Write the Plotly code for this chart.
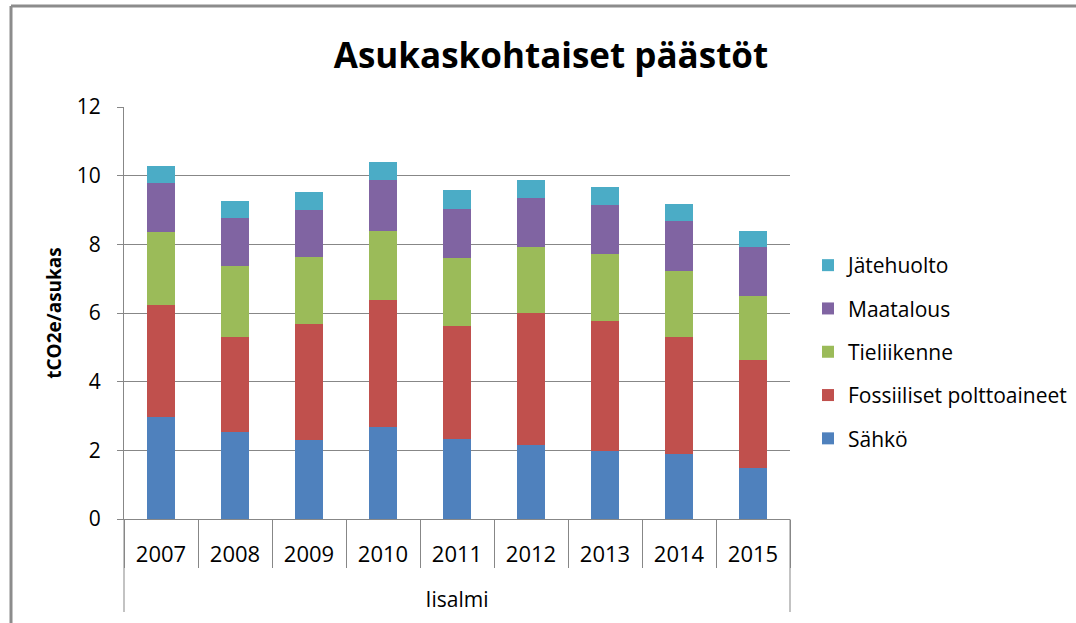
import plotly.graph_objects as go

years = ["2007", "2008", "2009", "2010", "2011", "2012", "2013", "2014", "2015"]
sahko = [2.96, 2.52, 2.29, 2.69, 2.32, 2.15, 1.98, 1.89, 1.49]
fossiiliset = [3.26, 2.79, 3.39, 3.69, 3.29, 3.84, 3.80, 3.42, 3.15]
tieliikenne = [2.14, 2.05, 1.94, 2.01, 1.98, 1.94, 1.95, 1.91, 1.85]
maatalous = [1.42, 1.41, 1.38, 1.48, 1.44, 1.41, 1.42, 1.45, 1.44]
jatehuolto = [0.50, 0.50, 0.53, 0.54, 0.54, 0.53, 0.52, 0.51, 0.47]

series = [
    ("Sähkö", sahko, "#4F81BD"),
    ("Fossiiliset polttoaineet", fossiiliset, "#C0504D"),
    ("Tieliikenne", tieliikenne, "#9BBB59"),
    ("Maatalous", maatalous, "#8064A2"),
    ("Jätehuolto", jatehuolto, "#4BACC6"),
]

FONT = "Open Sans, Liberation Sans, Arial, sans-serif"
GRID = "#878787"

fig = go.Figure()
n = len(series)
for i, (name, vals, col) in enumerate(series):
    fig.add_trace(go.Bar(x=years, y=vals, name=name, legendgroup=name, legendrank=n - i,
                         marker=dict(color=col, line=dict(width=0))))

# target pixel geometry in the 1076x623 screenshot
W, H = 1076, 623
L, T = 124, 107
PR, PB = 790, 519
pw, ph = PR - L, PB - T

shapes = [
    # outer chart frame (top and left)
    dict(type="line", xref="paper", yref="paper", x0=-(L - 11) / pw, x1=(W - L) / pw,
         y0=1 + (T - 6) / ph, y1=1 + (T - 6) / ph, line=dict(color="#8c8c8c", width=3)),
    dict(type="line", xref="paper", yref="paper", x0=-(L - 11) / pw, x1=-(L - 11) / pw,
         y0=1 + (T - 6) / ph, y1=-(H - PB) / ph, line=dict(color="#8c8c8c", width=3)),
    # group dividers at both ends of the category axis
    dict(type="line", xref="paper", yref="paper", x0=0, x1=0, y0=0, y1=-(612 - PB) / ph,
         line=dict(color=GRID, width=1)),
    dict(type="line", xref="paper", yref="paper", x0=1, x1=1, y0=0, y1=-(612 - PB) / ph,
         line=dict(color=GRID, width=1)),
]

fig.update_layout(
    width=W, height=H,
    barmode="stack", bargap=0.61,
    plot_bgcolor="white", paper_bgcolor="white",
    margin=dict(l=L, r=W - PR, t=T, b=H - PB, autoexpand=False),
    font=dict(family=FONT, color="#000000", size=21),
    title=dict(text="<b>Asukaskohtaiset päästöt</b>", x=551 / W, xanchor="center", xref="container",
               y=1 - 56 / H, yanchor="middle", yref="container",
               font=dict(family=FONT, size=35, color="#000000")),
    legend=dict(x=(808 - L) / pw, xanchor="left", y=1 - (245 - T) / ph, yanchor="top",
                traceorder="grouped", tracegroupgap=13, font=dict(size=21, family=FONT),
                bgcolor="rgba(0,0,0,0)"),
    shapes=shapes,
    xaxis=dict(type="category", showline=True, linecolor=GRID, linewidth=1,
               ticks="outside", tickson="boundaries", ticklen=48, tickcolor=GRID, tickwidth=1,
               ticklabelstandoff=16, showgrid=False,
               tickfont=dict(size=22, family=FONT),
               title=dict(text="Iisalmi", font=dict(size=21, family=FONT), standoff=24)),
    yaxis=dict(range=[0, 12], dtick=2, tick0=0, showgrid=True, gridcolor=GRID, gridwidth=1,
               showline=True, linecolor=GRID, linewidth=1, ticks="outside", ticklen=6,
               tickcolor=GRID, ticklabelstandoff=12, zeroline=False,
               tickfont=dict(size=21, family=FONT),
               title=dict(text="<b>tCO2e/asukas</b>", font=dict(size=19, family=FONT), standoff=10)),
)

fig.write_html("out.html", config={"displayModeBar": False},
               post_script="document.body.style.margin='0';document.body.style.overflow='hidden';"
                           "document.documentElement.style.overflow='hidden';")
